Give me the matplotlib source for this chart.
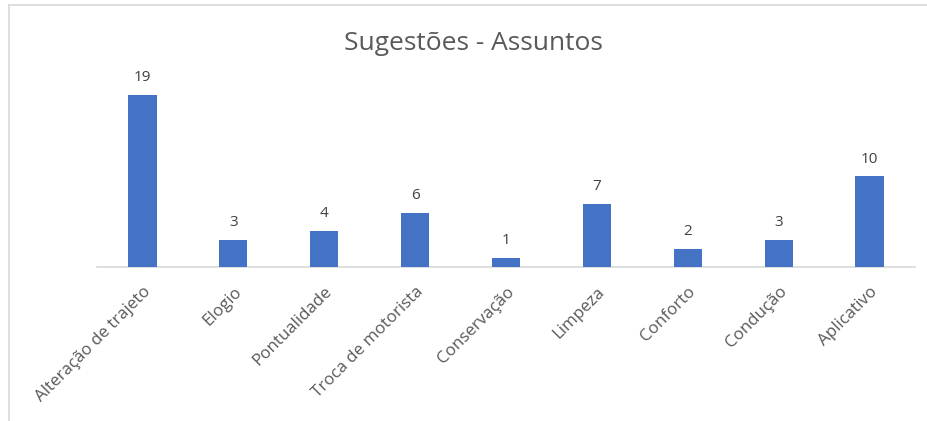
import matplotlib
matplotlib.use("Agg")
import matplotlib.pyplot as plt
from matplotlib.lines import Line2D

categories = ["Alteração de trajeto", "Elogio", "Pontualidade", "Troca de motorista",
              "Conservação", "Limpeza", "Conforto", "Condução", "Aplicativo"]
values = [19, 3, 4, 6, 1, 7, 2, 3, 10]
title = "Sugestões - Assuntos"

W, H = 928, 421
fig = plt.figure(figsize=(W / 100, H / 100), dpi=100)
fig.patch.set_facecolor("white")
plt.rcParams['font.family'] = ['Open Sans', 'DejaVu Sans']

# axes placement in pixels
x0, x1 = 97, 915
y_base = 267
ymax = 20
px_per_unit = 172 / 19
ax_h = ymax * px_per_unit
ax = fig.add_axes([x0 / W, 1 - y_base / H, (x1 - x0) / W, ax_h / H])

xs = list(range(len(categories)))
bars = ax.bar(xs, values, width=0.31, color="#4472C4", zorder=3)
ax.set_xlim(-0.5, len(categories) - 0.5)
ax.set_ylim(0, ymax)

for x, v in zip(xs, values):
    ax.annotate(str(v), (x, v), xytext=(0, 7), textcoords="offset points",
                ha="center", va="bottom", fontsize=11, color="#404040")

for s in ["top", "right", "left"]:
    ax.spines[s].set_visible(False)
ax.spines["bottom"].set_color("#d9d9d9")
ax.spines["bottom"].set_linewidth(1.2)
ax.set_yticks([])
ax.set_xticks(xs)
ax.set_xticklabels(categories, rotation=45, ha="right", rotation_mode="anchor",
                   fontsize=12.2, color="#595959")
ax.tick_params(axis="x", length=0, pad=12)

fig.text(473 / W, 1 - 43 / H, title, ha="center", va="center", fontsize=19, color="#595959")

# chart frame
fig.add_artist(Line2D([9 / W, 9 / W], [1 - 5 / H, 0], transform=fig.transFigure,
                      color="#d9d9d9", lw=1.2))
fig.add_artist(Line2D([9 / W, 1], [1 - 5 / H, 1 - 5 / H], transform=fig.transFigure,
                      color="#d9d9d9", lw=1.2))

fig.savefig("out.png", dpi=100, facecolor="white")
